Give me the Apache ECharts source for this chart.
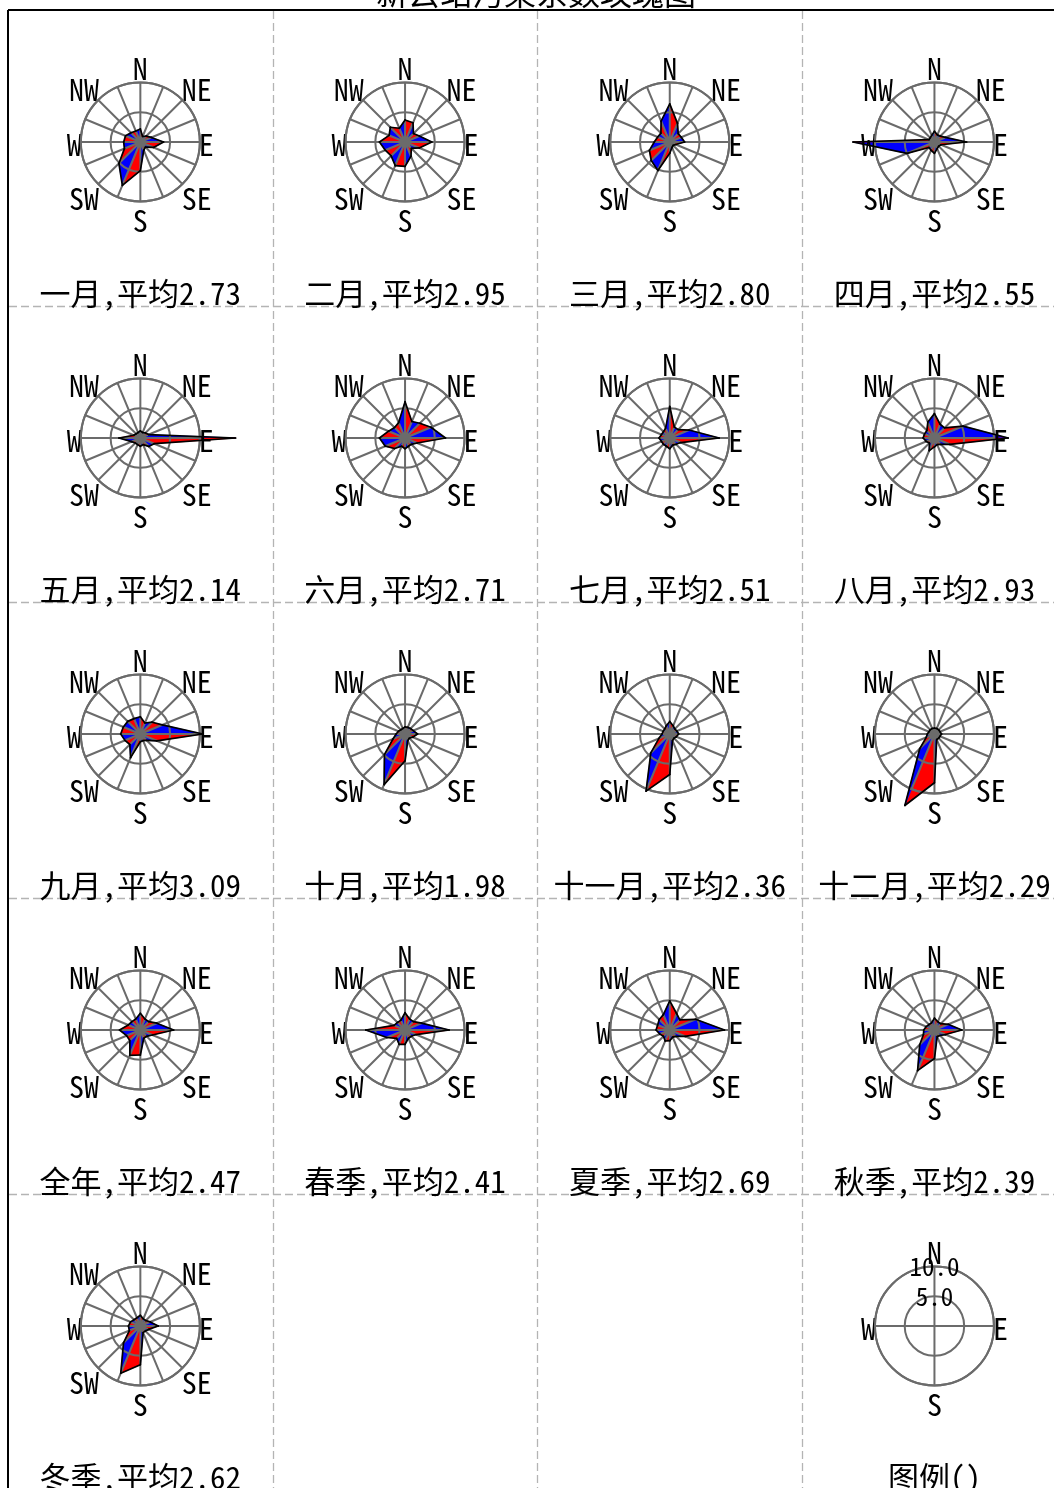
<!DOCTYPE html>
<html>
<head>
<meta charset="utf-8">
<title>新云站污染系数玫瑰图</title>
<script src="https://cdn.jsdelivr.net/npm/echarts@6/dist/echarts.min.js"></script>
<style>
  html, body { margin: 0; padding: 0; background: #ffffff; }
  #chart { width: 1054px; height: 1488px; }
</style>
</head>
<body>
<div id="chart"></div>
<script>
// 16 compass directions, clockwise from north
const directions = ['N', 'NNE', 'NE', 'ENE', 'E', 'ESE', 'SE', 'SSE', 'S', 'SSW', 'SW', 'WSW', 'W', 'WNW', 'NW', 'NNW'];
const legendDirections = ['N', 'E', 'S', 'W'];
const ringTicks = [0, 5, 10];

const panelNames = ['一月', '二月', '三月', '四月', '五月', '六月', '七月', '八月',
  '九月', '十月', '十一月', '十二月', '全年', '春季', '夏季', '秋季', '冬季'];
const panelAverages = [2.73, 2.95, 2.80, 2.55, 2.14, 2.71, 2.51, 2.93,
  3.09, 1.98, 2.36, 2.29, 2.47, 2.41, 2.69, 2.39, 2.62];

// pollution coefficient per direction (N, NNE, ... NNW)
const jan    = [2.2, 1.0, 1.4, 2.0, 3.9, 2.4, 1.2, 1.5, 4.8, 7.9, 5.1, 2.9, 2.8, 2.7, 2.2, 2.0];
const feb    = [3.7, 3.5, 2.0, 2.6, 4.5, 2.6, 1.5, 2.6, 4.1, 4.3, 3.3, 3.6, 4.3, 2.9, 3.5, 2.5];
const mar    = [6.4, 3.4, 2.0, 2.1, 2.5, 1.1, 0.8, 1.0, 1.9, 5.2, 4.4, 3.7, 2.6, 2.2, 2.1, 3.8];
const apr    = [1.8, 1.3, 1.4, 2.0, 5.4, 1.2, 1.0, 1.2, 1.9, 1.5, 1.3, 5.0, 13.7, 1.0, 1.0, 1.2];
const may    = [1.2, 1.0, 1.2, 1.5, 16.0, 2.5, 2.0, 1.2, 1.4, 1.2, 1.2, 1.6, 3.6, 1.2, 1.0, 1.0];
const jun    = [6.1, 3.0, 3.5, 4.7, 6.8, 2.2, 1.5, 1.5, 1.8, 1.5, 2.5, 3.6, 4.3, 3.0, 2.5, 2.8];
const jul    = [5.3, 2.0, 2.0, 3.5, 8.3, 2.0, 1.5, 1.3, 1.8, 1.5, 1.5, 1.5, 1.8, 1.5, 1.5, 1.8];
const aug    = [4.1, 2.5, 2.4, 5.2, 12.4, 2.8, 1.5, 1.2, 1.5, 2.3, 1.2, 1.5, 1.9, 1.8, 1.8, 2.9];
const sep    = [2.9, 2.0, 2.8, 4.0, 10.5, 3.0, 1.5, 1.2, 1.3, 4.3, 2.5, 2.8, 3.3, 3.1, 3.0, 2.8];
const oct    = [1.2, 1.2, 1.3, 1.5, 2.1, 1.4, 1.0, 1.2, 4.5, 9.2, 4.9, 2.2, 1.5, 1.2, 1.0, 1.0];
const nov    = [2.1, 1.5, 1.2, 1.3, 1.5, 1.2, 1.0, 1.2, 6.8, 10.4, 4.5, 2.0, 1.3, 1.2, 1.2, 1.5];
const dec    = [1.0, 1.0, 1.0, 1.0, 1.2, 1.0, 1.0, 1.0, 8.2, 13.0, 3.5, 1.5, 1.2, 1.0, 1.0, 1.0];
const year   = [2.8, 2.0, 2.0, 3.0, 5.6, 2.2, 1.5, 1.5, 4.2, 4.6, 2.5, 2.5, 3.5, 2.2, 2.0, 2.0];
const spring = [2.9, 2.0, 2.0, 3.0, 7.4, 2.0, 1.5, 1.5, 2.4, 2.6, 2.0, 3.3, 6.6, 2.0, 1.8, 1.8];
const summer = [4.9, 3.0, 2.4, 4.7, 9.2, 2.8, 1.5, 1.3, 1.8, 2.0, 1.5, 1.8, 2.3, 2.2, 2.5, 2.8];
const autumn = [2.0, 1.5, 1.5, 2.5, 4.6, 2.0, 1.3, 1.2, 4.8, 7.4, 3.5, 2.0, 1.8, 1.5, 1.3, 1.3];
const winter = [1.8, 1.3, 1.3, 1.8, 3.0, 1.5, 1.2, 1.2, 6.5, 8.6, 4.0, 2.0, 2.0, 1.8, 1.5, 1.5];

const panelValues = [jan, feb, mar, apr, may, jun, jul, aug, sep, oct, nov, dec,
  year, spring, summer, autumn, winter];

// ---- layout ----
const GRID_LEFT = 8, GRID_TOP = 10;
const CELL_W = 264.7, CELL_H = 296;
const COLS = 4, ROWS = 5;
const ROSE_DY = 132, CAPTION_DY = 283, ROSE_R = 59.5;
const LEGEND_CELL = 19;
const AXIS_GRAY = '#6b6b6b';
const DASH_GRAY = '#b4b4b4';
const TEXT_FONT = '"Noto Sans Mono CJK SC", "Liberation Serif", "Noto Sans CJK SC", serif';
const SECTOR_COLORS = ['#ff0000', '#0000ff'];
const FULL_TURN = 360;

// label boxes: upper diagonals sit a little lower, south a little further out,
// east/west slightly below the horizontal spoke
const labelRich = {
  std:  { fontSize: 30, fontFamily: TEXT_FONT, color: '#000000' },
  side: { fontSize: 30, fontFamily: TEXT_FONT, color: '#000000', padding: [6, 0, 0, 0] },
  up:   { fontSize: 30, fontFamily: TEXT_FONT, color: '#000000', lineHeight: 22 },
  down: { fontSize: 30, fontFamily: TEXT_FONT, color: '#000000', lineHeight: 40 }
};
function labelStyleName(name) {
  if (name === 'NE' || name === 'NW') return 'up';
  if (name === 'S') return 'down';
  if (name === 'E' || name === 'W') return 'side';
  return 'std';
}

function cellOrigin(k) {
  const c = k % COLS, r = Math.floor(k / COLS);
  return [GRID_LEFT + CELL_W * (c + 0.5), GRID_TOP + CELL_H * r];
}

// triangle between centre, direction i and direction i+1
function sectorPoints(api) {
  const a0 = api.value(1), a1 = api.value(3);
  return [
    api.coord([0, a0]),
    api.coord([api.value(0), a0]),
    api.coord([api.value(2), a1])
  ];
}

function fillItem(params, api) {
  const pts = sectorPoints(api);
  const color = SECTOR_COLORS[params.dataIndex % 2];
  return {
    type: 'polygon',
    shape: { points: pts.map(p => [p[0], p[1]]) },
    style: { fill: color, stroke: color, lineWidth: 0.6 }
  };
}

function outlineItem(params, api) {
  const pts = sectorPoints(api);
  return {
    type: 'polyline',
    shape: { points: [[pts[1][0], pts[1][1]], [pts[2][0], pts[2][1]]] },
    style: { fill: null, stroke: '#000000', lineWidth: 1.7, lineCap: 'round' }
  };
}

const polar = [], angleAxis = [], radiusAxis = [], series = [], graphic = [];

function addRoseAxes(k, idx, names, labelEvery, showRingLabels) {
  const [cx, top] = cellOrigin(k);
  const step = FULL_TURN / names.length;
  polar.push({ center: [cx, top + ROSE_DY], radius: ROSE_R });
  angleAxis.push({
    polarIndex: idx,
    type: 'value',
    min: 0,
    max: FULL_TURN,
    interval: step,
    startAngle: 90,
    clockwise: true,
    z: 3,
    axisLine: { show: true, lineStyle: { color: AXIS_GRAY, width: 2 } },
    axisTick: { show: false },
    axisLabel: {
      margin: -1, color: '#000000', fontSize: 30, fontFamily: TEXT_FONT,
      rich: labelRich,
      formatter: v => {
        const i = Math.round(v / step) % names.length;
        if (i % labelEvery !== 0) return '';
        return '{' + labelStyleName(names[i]) + '|' + names[i] + '}';
      }
    },
    splitLine: { show: true, lineStyle: { color: AXIS_GRAY, width: 2 } }
  });
  radiusAxis.push({
    polarIndex: idx,
    type: 'value',
    min: ringTicks[0],
    max: ringTicks[ringTicks.length - 1],
    interval: ringTicks[1] - ringTicks[0],
    z: 3,
    axisLine: { show: false },
    axisTick: { show: false },
    axisLabel: showRingLabels ? {
      show: true, showMinLabel: false, margin: 0,
      align: 'center', verticalAlign: 'middle',
      color: '#000000', fontSize: 25, fontFamily: TEXT_FONT,
      formatter: v => v.toFixed(1)
    } : { show: false },
    splitLine: { show: true, lineStyle: { color: AXIS_GRAY, width: 2 } }
  });
}

function captionText(k, text) {
  const [cx, top] = cellOrigin(k);
  graphic.push({
    type: 'text', x: cx, y: top + CAPTION_DY, z: 10,
    style: {
      text, fontSize: 31, fontFamily: TEXT_FONT, fill: '#000000',
      align: 'center', verticalAlign: 'middle',
      textAlign: 'center', textVerticalAlign: 'middle'
    }
  });
}

panelValues.forEach((vals, k) => {
  addRoseAxes(k, k, directions, 2, false);
  const step = FULL_TURN / directions.length;
  const data = vals.map((v, i) => {
    const j = (i + 1) % vals.length;
    return [v, i * step, vals[j], j * step];
  });
  series.push({
    type: 'custom', coordinateSystem: 'polar', polarIndex: k,
    z: 1, silent: true, data, encode: { radius: 0, angle: 1 },
    renderItem: fillItem
  });
  series.push({
    type: 'custom', coordinateSystem: 'polar', polarIndex: k,
    z: 4, silent: true, data, encode: { radius: 0, angle: 1 },
    renderItem: outlineItem
  });
  captionText(k, panelNames[k] + ',平均' + panelAverages[k].toFixed(2));
});

// scale legend
addRoseAxes(LEGEND_CELL, panelValues.length, legendDirections, 1, true);
captionText(LEGEND_CELL, '图例()');

// frame: solid top/left border, dashed cell dividers
const W = 1054, H = 1488;
graphic.push({ type: 'line', z: 5, shape: { x1: GRID_LEFT, y1: GRID_TOP, x2: W, y2: GRID_TOP },
  style: { stroke: '#000000', lineWidth: 2 } });
graphic.push({ type: 'line', z: 5, shape: { x1: GRID_LEFT, y1: GRID_TOP, x2: GRID_LEFT, y2: H },
  style: { stroke: '#000000', lineWidth: 2 } });
for (let c = 1; c < COLS; c++) {
  const x = Math.round(GRID_LEFT + CELL_W * c) + 0.5;
  graphic.push({ type: 'line', z: 0, shape: { x1: x, y1: GRID_TOP + 1, x2: x, y2: H },
    style: { stroke: DASH_GRAY, lineWidth: 1.3, lineDash: [8, 4] } });
}
for (let r = 1; r < ROWS; r++) {
  const y = Math.round(GRID_TOP + CELL_H * r) + 0.5;
  graphic.push({ type: 'line', z: 0, shape: { x1: GRID_LEFT + 1, y1: y, x2: W, y2: y },
    style: { stroke: DASH_GRAY, lineWidth: 1.3, lineDash: [8, 4] } });
}
graphic.push({
  type: 'text', x: 536, y: -7, z: 10,
  style: {
    text: '新云站污染系数玫瑰图', fontSize: 32, fontFamily: TEXT_FONT, fill: '#000000',
    align: 'center', verticalAlign: 'middle', textAlign: 'center', textVerticalAlign: 'middle'
  }
});

const chart = echarts.init(document.getElementById('chart'), null, { renderer: 'canvas' });
chart.setOption({
  backgroundColor: '#ffffff',
  animation: false,
  polar, angleAxis, radiusAxis, series, graphic
});
</script>
</body>
</html>
